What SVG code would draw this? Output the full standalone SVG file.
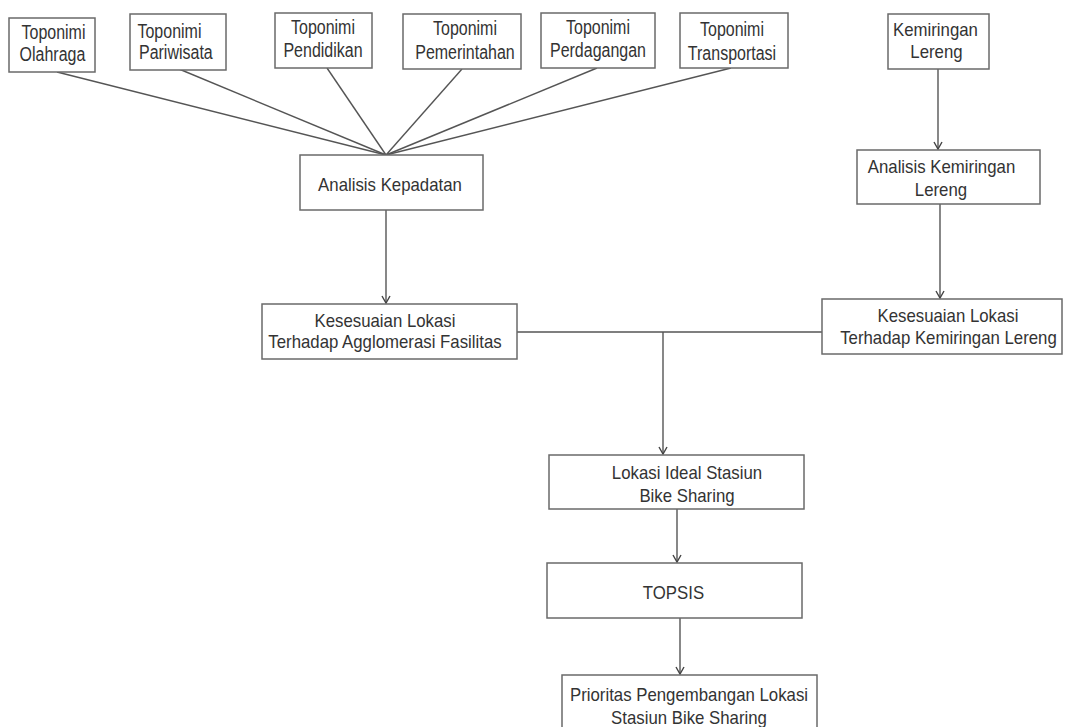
<svg xmlns="http://www.w3.org/2000/svg" width="1067" height="727" viewBox="0 0 1067 727">
<style>
.box{fill:#fff;stroke:#6a6a6a;stroke-width:1.5}
.t{font-family:"Liberation Sans",Arial,sans-serif;font-size:16.8px;fill:#333;text-anchor:middle}
.tt{font-family:"Liberation Sans",Arial,sans-serif;font-size:16px;fill:#333;text-anchor:middle}
.ts{font-family:"Liberation Sans",Arial,sans-serif;font-size:16px;fill:#333}
.ln{fill:none;stroke:#555;stroke-width:1.4}
</style>
<defs>
<marker id="arr" markerUnits="userSpaceOnUse" markerWidth="12" markerHeight="12" viewBox="0 0 12 12" refX="8" refY="5" orient="auto">
<path d="M1,1 L8,5 L1,9" fill="none" stroke="#444" stroke-width="1.4"/>
</marker>
</defs>
<rect width="1067" height="727" fill="#fff"/>
<g id="connectors">
<line class="ln" x1="57" y1="72" x2="386" y2="155"/>
<line class="ln" x1="179" y1="69" x2="386" y2="155"/>
<line class="ln" x1="327" y1="68" x2="386" y2="155"/>
<line class="ln" x1="462" y1="69" x2="386" y2="155"/>
<line class="ln" x1="597" y1="68" x2="386" y2="155"/>
<line class="ln" x1="731" y1="68" x2="386" y2="155"/>
<line class="ln" x1="386" y1="210" x2="386" y2="303" marker-end="url(#arr)"/>
<line class="ln" x1="938" y1="69" x2="938" y2="149" marker-end="url(#arr)"/>
<line class="ln" x1="940" y1="204" x2="940" y2="298" marker-end="url(#arr)"/>
<line class="ln" x1="517" y1="332" x2="822" y2="332"/>
<line class="ln" x1="663" y1="332" x2="663" y2="454" marker-end="url(#arr)"/>
<line class="ln" x1="677" y1="509" x2="677" y2="562" marker-end="url(#arr)"/>
<line class="ln" x1="680" y1="618" x2="680" y2="674" marker-end="url(#arr)"/>
</g>
<g id="n-olahraga"><rect class="box" x="9" y="18" width="86" height="54"/><text class="tt" x="53.5" y="0" transform="matrix(1,0,0,1.22,0,39)">Toponimi</text><text class="tt" x="52.5" y="0" transform="matrix(1,0,0,1.22,0,61)">Olahraga</text></g>
<g id="n-pariwisata"><rect class="box" x="130" y="14" width="96" height="56"/><text class="ts" x="137.5" y="0" transform="matrix(1,0,0,1.22,0,38)">Toponimi</text><text class="ts" x="139" y="0" transform="matrix(1,0,0,1.22,0,59)">Pariwisata</text></g>
<g id="n-pendidikan"><rect class="box" x="275" y="13" width="97" height="55"/><text class="tt" x="323" y="0" transform="matrix(1,0,0,1.22,0,34)">Toponimi</text><text class="tt" x="323" y="0" transform="matrix(1,0,0,1.22,0,57)">Pendidikan</text></g>
<g id="n-pemerintahan"><rect class="box" x="403" y="14" width="118" height="55"/><text class="tt" x="465" y="0" transform="matrix(1,0,0,1.22,0,35)">Toponimi</text><text class="tt" x="465" y="0" transform="matrix(1,0,0,1.22,0,58.5)">Pemerintahan</text></g>
<g id="n-perdagangan"><rect class="box" x="541" y="13" width="114" height="55"/><text class="tt" x="598" y="0" transform="matrix(1,0,0,1.22,0,34)">Toponimi</text><text class="tt" x="598" y="0" transform="matrix(1,0,0,1.22,0,57)">Perdagangan</text></g>
<g id="n-transportasi"><rect class="box" x="680" y="13" width="108" height="55"/><text class="tt" x="732" y="0" transform="matrix(1,0,0,1.22,0,35.5)">Toponimi</text><text class="tt" x="732" y="0" transform="matrix(1,0,0,1.22,0,59.5)">Transportasi</text></g>
<g id="n-kemiringan"><rect class="box" x="888" y="14" width="101" height="55"/><text class="t" x="935.5" y="0" transform="matrix(1,0,0,1.12,0,36)">Kemiringan</text><text class="t" x="936.5" y="0" transform="matrix(1,0,0,1.12,0,58)">Lereng</text></g>
<g id="n-analisis-kepadatan"><rect class="box" x="300" y="155" width="183" height="55"/><text class="t" x="390" y="0" transform="matrix(1,0,0,1.12,0,191)">Analisis Kepadatan</text></g>
<g id="n-analisis-kemiringan"><rect class="box" x="857" y="150" width="183" height="54"/><text class="t" x="941.5" y="0" transform="matrix(1,0,0,1.12,0,173)">Analisis Kemiringan</text><text class="t" x="941" y="0" transform="matrix(1,0,0,1.12,0,196)">Lereng</text></g>
<g id="n-kesesuaian-agglomerasi"><rect class="box" x="262" y="304" width="255" height="55"/><text class="t" x="385" y="0" transform="matrix(1,0,0,1.12,0,327)">Kesesuaian Lokasi</text><text class="t" x="385" y="0" transform="matrix(1,0,0,1.12,0,348)">Terhadap Agglomerasi Fasilitas</text></g>
<g id="n-kesesuaian-kemiringan"><rect class="box" x="822" y="299" width="240" height="55"/><text class="t" x="948" y="0" transform="matrix(1,0,0,1.12,0,322)">Kesesuaian Lokasi</text><text class="t" x="948.5" y="0" transform="matrix(1,0,0,1.12,0,344)">Terhadap Kemiringan Lereng</text></g>
<g id="n-lokasi-ideal"><rect class="box" x="549" y="455" width="255" height="54"/><text class="t" x="687" y="0" transform="matrix(1,0,0,1.12,0,479)">Lokasi Ideal Stasiun</text><text class="t" x="687" y="0" transform="matrix(1,0,0,1.12,0,502)">Bike Sharing</text></g>
<g id="n-topsis"><rect class="box" x="547" y="563" width="255" height="55"/><text class="t" x="673.5" y="0" transform="matrix(1,0,0,1.12,0,599)">TOPSIS</text></g>
<g id="n-prioritas"><rect class="box" x="562" y="675" width="255" height="62"/><text class="t" x="689" y="0" transform="matrix(1,0,0,1.12,0,701)">Prioritas Pengembangan Lokasi</text><text class="t" x="689" y="0" transform="matrix(1,0,0,1.12,0,724)">Stasiun Bike Sharing</text></g>
</svg>
